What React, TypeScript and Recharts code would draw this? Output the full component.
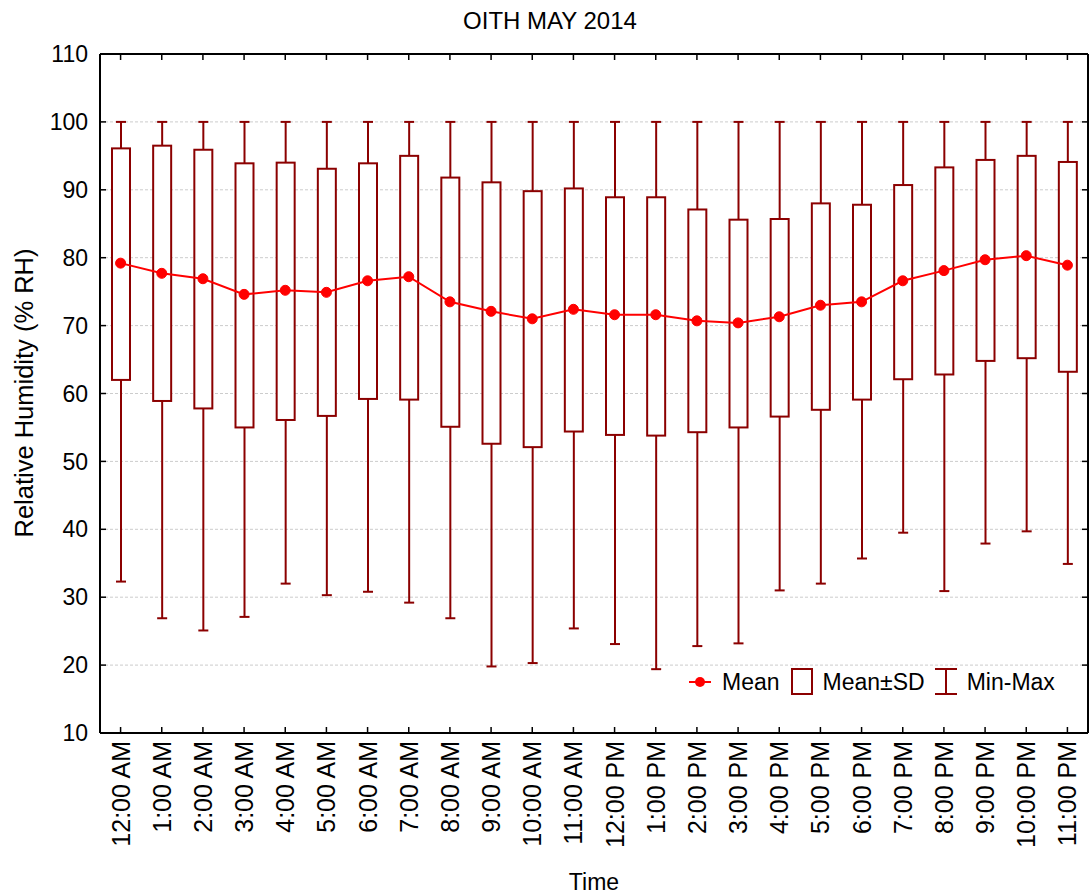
import React from 'react'
import {
  ComposedChart,
  Bar,
  Line,
  XAxis,
  YAxis,
  CartesianGrid,
  Legend,
} from 'recharts'

const HOURS = [
  '12:00 AM', '1:00 AM', '2:00 AM', '3:00 AM', '4:00 AM', '5:00 AM',
  '6:00 AM', '7:00 AM', '8:00 AM', '9:00 AM', '10:00 AM', '11:00 AM',
  '12:00 PM', '1:00 PM', '2:00 PM', '3:00 PM', '4:00 PM', '5:00 PM',
  '6:00 PM', '7:00 PM', '8:00 PM', '9:00 PM', '10:00 PM', '11:00 PM',
]

const MEAN = [
  79.2, 77.7, 76.9, 74.6, 75.2, 74.9, 76.6, 77.2, 73.5, 72.1, 71.0, 72.4,
  71.6, 71.6, 70.7, 70.4, 71.3, 73.0, 73.5, 76.6, 78.1, 79.7, 80.3, 78.9,
]

const SD_HIGH = [
  96.1, 96.5, 95.9, 93.9, 94.0, 93.1, 93.9, 95.0, 91.8, 91.1, 89.8, 90.2,
  88.9, 88.9, 87.1, 85.6, 85.7, 88.0, 87.8, 90.7, 93.3, 94.4, 95.0, 94.1,
]

const SD_LOW = [
  62.0, 58.9, 57.8, 55.0, 56.1, 56.7, 59.2, 59.1, 55.1, 52.6, 52.1, 54.4,
  53.9, 53.8, 54.3, 55.0, 56.6, 57.6, 59.1, 62.1, 62.8, 64.8, 65.2, 63.2,
]

const MIN = [
  32.3, 26.9, 25.1, 27.1, 32.0, 30.3, 30.8, 29.2, 26.9, 19.8, 20.3, 25.4,
  23.1, 19.4, 22.8, 23.2, 31.0, 32.0, 35.7, 39.5, 30.9, 37.9, 39.7, 34.9,
]

const MAX = [
  100, 100, 100, 100, 100, 100, 100, 100, 100, 100, 100, 100,
  100, 100, 100, 100, 100, 100, 100, 100, 100, 100, 100, 100,
]

const Y_TICKS = [10, 20, 30, 40, 50, 60, 70, 80, 90, 100, 110]

const FONT = '"Liberation Sans", Arial, sans-serif'
const DARK_RED = '#8b0000'
const RED = '#ff0000'

const data = HOURS.map((time, i) => ({
  time,
  mean: MEAN[i],
  range: [MIN[i], MAX[i]],
  sdHigh: SD_HIGH[i],
  sdLow: SD_LOW[i],
  minV: MIN[i],
  maxV: MAX[i],
}))

// whisker + Mean±SD box, drawn inside the min-max range bar
function BoxWhisker(props: any) {
  const { x, y, width, height, payload } = props
  if (!payload) return null
  const top = Math.min(y, y + height)
  const h = Math.abs(height)
  const perUnit = h / (payload.maxV - payload.minV)
  const yHi = top + (payload.maxV - payload.sdHigh) * perUnit
  const yLo = top + (payload.maxV - payload.sdLow) * perUnit
  const cx = x + width / 2
  const cap = 5
  return (
    <g>
      <line x1={cx} x2={cx} y1={top} y2={top + h} stroke={DARK_RED} strokeWidth={2} />
      <line x1={cx - cap} x2={cx + cap} y1={top} y2={top} stroke={DARK_RED} strokeWidth={2} />
      <line x1={cx - cap} x2={cx + cap} y1={top + h} y2={top + h} stroke={DARK_RED} strokeWidth={2} />
      <rect x={x} y={yHi} width={width} height={yLo - yHi} fill="#fff" stroke={DARK_RED} strokeWidth={2} />
    </g>
  )
}

function TimeTick({ x, y, payload }: any) {
  return (
    <text
      x={x}
      y={y}
      transform={`rotate(-90, ${x}, ${y})`}
      textAnchor="end"
      dominantBaseline="central"
      fontSize={25}
      fontFamily={FONT}
      fill="#000"
    >
      {payload.value}
    </text>
  )
}

const noTick = () => <g />

function LegendBox() {
  const item = { display: 'flex', alignItems: 'center' } as const
  const label = { fontSize: 23, fontFamily: FONT, color: '#000', lineHeight: '26px' }
  return (
    <div style={{ display: 'flex', alignItems: 'center' }}>
      <div style={item}>
        <svg width={22} height={12}>
          <line x1={0} x2={22} y1={6} y2={6} stroke={RED} strokeWidth={2} />
          <circle cx={11} cy={6} r={5} fill={RED} />
        </svg>
        <span style={{ ...label, marginLeft: 11 }}>Mean</span>
      </div>
      <div style={{ ...item, marginLeft: 11 }}>
        <svg width={22} height={27}>
          <rect x={1} y={1} width={20} height={25} fill="#fff" stroke={DARK_RED} strokeWidth={2} />
        </svg>
        <span style={{ ...label, marginLeft: 10 }}>Mean±SD</span>
      </div>
      <div style={{ ...item, marginLeft: 10 }}>
        <svg width={22} height={27}>
          <line x1={0} x2={22} y1={1} y2={1} stroke={DARK_RED} strokeWidth={2} />
          <line x1={11} x2={11} y1={1} y2={26} stroke={DARK_RED} strokeWidth={2} />
          <line x1={0} x2={22} y1={26} y2={26} stroke={DARK_RED} strokeWidth={2} />
        </svg>
        <span style={{ ...label, marginLeft: 10 }}>Min-Max</span>
      </div>
    </div>
  )
}

export default function App() {
  return (
    <div style={{ position: 'absolute', left: 0, top: 0, background: '#fff' }}>
      <ComposedChart
        width={1091}
        height={895}
        data={data}
        margin={{ top: 53, right: 2, bottom: 0, left: 0 }}
      >
        <CartesianGrid vertical={false} stroke="#cccccc" strokeDasharray="3 2" />
        <XAxis
          dataKey="time"
          interval={0}
          height={162}
          tickSize={-6}
          tickMargin={14}
          tick={<TimeTick />}
          axisLine={{ stroke: '#000', strokeWidth: 2 }}
          tickLine={{ stroke: '#000', strokeWidth: 1.5 }}
          label={{
            content: (p: any) => (
              <text
                x={p.viewBox.x + p.viewBox.width / 2}
                y={882}
                textAnchor="middle"
                dominantBaseline="central"
                fontSize={23}
                fontFamily={FONT}
                fill="#000"
              >
                Time
              </text>
            ),
          }}
        />
        <XAxis
          xAxisId="top"
          orientation="top"
          dataKey="time"
          interval={0}
          height={1}
          tickSize={-6}
          tick={noTick}
          axisLine={{ stroke: '#000', strokeWidth: 2 }}
          tickLine={{ stroke: '#000', strokeWidth: 1.5 }}
          label={{
            content: () => (
              <text
                x={550}
                y={20}
                textAnchor="middle"
                dominantBaseline="central"
                fontSize={24}
                fontFamily={FONT}
                fill="#000"
              >
                OITH MAY 2014
              </text>
            ),
          }}
        />
        <YAxis
          domain={[10, 110]}
          ticks={Y_TICKS}
          interval={0}
          width={100}
          tickSize={-6}
          tickMargin={18}
          tick={{ fontSize: 23, fontFamily: FONT, fill: '#000' }}
          axisLine={{ stroke: '#000', strokeWidth: 2 }}
          tickLine={{ stroke: '#000', strokeWidth: 1.5 }}
          label={{
            content: () => (
              <text
                x={24}
                y={393}
                transform="rotate(-90, 24, 393)"
                textAnchor="middle"
                dominantBaseline="central"
                fontSize={25.5}
                fontFamily={FONT}
                fill="#000"
              >
                Relative Humidity (% RH)
              </text>
            ),
          }}
        />
        <YAxis
          yAxisId="right"
          orientation="right"
          domain={[10, 110]}
          ticks={Y_TICKS}
          interval={0}
          width={1}
          tickSize={-6}
          tick={noTick}
          axisLine={{ stroke: '#000', strokeWidth: 2 }}
          tickLine={{ stroke: '#000', strokeWidth: 1.5 }}
        />
        <Legend
          layout="horizontal"
          verticalAlign="middle"
          align="center"
          content={() => <LegendBox />}
          wrapperStyle={{ left: 689, top: 668, width: 'auto' }}
        />
        <Bar
          dataKey="range"
          barSize={18}
          shape={<BoxWhisker />}
          isAnimationActive={false}
        />
        {/* invisible twin of the mean line so the top/right frame axes get drawn */}
        <Line
          xAxisId="top"
          yAxisId="right"
          dataKey="mean"
          stroke="none"
          dot={false}
          activeDot={false}
          legendType="none"
          isAnimationActive={false}
        />
        <Line
          type="linear"
          dataKey="mean"
          stroke={RED}
          strokeWidth={2}
          dot={{ r: 5, fill: RED, stroke: RED, strokeWidth: 1 }}
          activeDot={false}
          isAnimationActive={false}
        />
      </ComposedChart>
    </div>
  )
}
